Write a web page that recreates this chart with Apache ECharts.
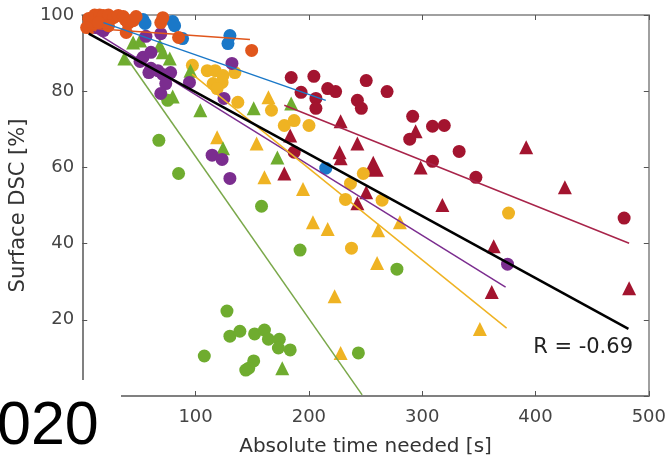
<!DOCTYPE html>
<html><head><meta charset="utf-8">
<script src="https://cdn.jsdelivr.net/npm/echarts@6/dist/echarts.min.js"></script>
<style>html,body{margin:0;padding:0;background:#fff;}#c{width:669px;height:462px;}</style>
</head><body><div id="c"></div>
<script>
// ---- data (time [s], surface DSC [%]) ----
const xTicks = [0, 100, 200, 300, 400, 500];
const yTicks = [0, 20, 40, 60, 80, 100];

const orangeCircles = [[5.7,99.1],[10.9,100],[15.3,100],[18.7,99.9],[23.1,100],[27.5,99.3],[31.8,99.9],[36.2,99.6],[37.9,98.8],[40.5,97.8],[44.9,98.5],[47.5,99.6],[69.3,98.0],[71.1,99.3],[85.0,94.1],[149.5,90.7],[7.4,96.7],[14.4,98.0],[38.8,95.4],[23.1,97.2],[3.9,96.7]];
const blueCircles = [[53.6,98.8],[55.4,97.8],[79.8,98.3],[81.5,97.2],[88.5,93.8],[130.3,94.6],[128.6,92.5],[214.9,59.8],[18.7,99.3]];
const purpleCircles = [[11.8,96.7],[18.7,95.9],[22.2,97.0],[56.2,94.4],[69.3,95.1],[53.6,88.9],[60.6,90.2],[51.0,87.8],[60.6,86.0],[58.8,84.9],[66.7,85.4],[71.1,84.4],[78.0,84.9],[73.7,82.0],[69.3,79.4],[94.6,82.3],[132.1,87.3],[125.1,78.1],[114.6,63.2],[123.4,62.1],[130.3,57.1],[375.3,34.6]];
const yellowCircles = [[97.2,86.8],[110.3,85.4],[117.3,85.4],[124.2,84.1],[134.7,84.9],[115.5,82.0],[123.4,82.3],[119.0,80.7],[137.3,77.1],[167.0,75.0],[178.3,71.0],[187.0,72.3],[200.1,71.0],[248.0,58.4],[236.7,55.8],[232.3,51.6],[264.6,51.4],[237.6,38.8],[376.2,48.0]];
const yellowTriangles = [[164.3,78.4],[119.0,67.9],[153.9,66.3],[160.8,57.4],[194.8,54.3],[203.6,45.6],[216.6,43.8],[261.1,43.5],[280.3,45.6],[260.2,34.9],[222.7,26.2],[228.0,11.3],[350.9,17.6]];
const greenCircles = [[67.6,67.1],[85.0,58.4],[158.2,49.8],[192.2,38.3],[277.7,33.3],[243.7,11.3],[127.7,22.3],[130.3,15.7],[139.1,17.0],[152.1,16.3],[160.8,17.3],[164.3,14.9],[173.9,14.9],[173.1,12.6],[183.5,12.1],[107.7,10.5],[151.3,9.2],[146.9,7.3],[144.3,6.8],[75.4,77.6]];
const greenTriangles = [[37.1,88.6],[44.9,92.8],[51.0,93.3],[68.4,92.0],[71.1,90.2],[77.2,88.6],[79.8,78.6],[95.5,85.4],[104.2,75.0],[151.3,75.5],[184.4,76.8],[172.2,62.6],[124.2,65.0],[176.5,7.3]];
const redCircles = [[184.4,83.6],[204.4,83.9],[193.1,79.7],[216.6,80.7],[223.6,79.9],[206.2,78.1],[206.2,75.5],[250.6,82.8],[269.0,79.9],[242.8,77.6],[246.3,75.5],[291.6,73.4],[309.1,70.8],[319.5,71.0],[289.0,67.4],[309.1,61.6],[332.6,64.2],[347.4,57.4],[478.2,46.7],[187.0,64.0]];
const redTriangles = [[183.5,68.4],[178.3,58.4],[228.0,72.1],[242.8,66.3],[227.1,64.0],[228.0,62.4],[298.6,60.0],[294.2,69.5],[391.8,65.3],[425.9,54.8],[250.6,53.5],[242.8,50.6],[317.8,50.1],[363.1,39.3],[361.4,27.3],[482.6,28.3]];
const redBigTriangle = [[256.8,60.3]];

// regression line end points
const orangeFit = [[4,96.6],[148,93.6]];
const blueFit = [[18.7,98.0],[214.9,77.6]];
const purpleFit = [[10,95.7],[373.6,28.6]];
const yellowFit = [[97,84.5],[374.5,17.8]];
const greenFit = [[38.8,88.9],[247,0.3]];
const redFit = [[178.3,76.3],[482.6,40.1]];
const allFit = [[5.7,95.1],[482,17.6]];
const rText = 'R = -0.69';

// ---- chart ----
const C = {
  blue:'#1a78c8', orange:'#e0561c', yellow:'#efb323', purple:'#7b2d8f', green:'#6fac2f', red:'#a3142f'
};
const chart = echarts.init(document.getElementById('c'), null, {renderer:'canvas'});
const axisCol = '#808080';
const boxCol = '#a0a0a0';
const labelStyle = {fontFamily:'DejaVu Sans', fontSize:18, color:'#444'};
function scat(data, color, symbol, size){
  return {type:'scatter', data, symbol, symbolSize:size, itemStyle:{color, opacity:1}, z:3, clip:false, animation:false};
}
function fit(data, color, width, ax){
  return {type:'line', data, symbol:'none', lineStyle:{color, width}, z:4, animation:false, silent:true,
          xAxisIndex: ax || 0, yAxisIndex: ax || 0};
}
chart.setOption({
  backgroundColor:'#fff',
  animation:false,
  grid:{left:80, right:18, top:15, bottom:66, containLabel:false},
  xAxis:[
    {type:'value', min:xTicks[0], max:xTicks[xTicks.length-1], interval:100, position:'bottom',
     axisLine:{show:true, onZero:false, lineStyle:{color:axisCol, width:2}},
     axisTick:{show:true, inside:true, length:5, lineStyle:{color:'#555', width:1}},
     axisLabel:{...labelStyle, margin:12},
     splitLine:{show:false},
     name:'Absolute time needed [s]', nameLocation:'middle', nameGap:41,
     nameTextStyle:{fontFamily:'DejaVu Sans', fontSize:20, color:'#333'}},
    {type:'value', min:xTicks[0], max:xTicks[xTicks.length-1], interval:100, position:'top',
     axisLine:{show:true, onZero:false, lineStyle:{color:boxCol, width:2}},
     axisTick:{show:true, inside:true, length:5, lineStyle:{color:'#555', width:1}},
     axisLabel:{show:false}, splitLine:{show:false}}
  ],
  yAxis:[
    {type:'value', min:yTicks[0], max:yTicks[yTicks.length-1], interval:20, position:'left',
     axisLine:{show:true, onZero:false, lineStyle:{color:axisCol, width:2}},
     axisTick:{show:true, inside:true, length:5, lineStyle:{color:'#555', width:1}},
     axisLabel:{...labelStyle, margin:8},
     splitLine:{show:false},
     name:'Surface DSC [%]', nameLocation:'middle', nameGap:46,
     nameTextStyle:{fontFamily:'DejaVu Sans', fontSize:21, color:'#333'}},
    {type:'value', min:yTicks[0], max:yTicks[yTicks.length-1], interval:20, position:'right',
     axisLine:{show:true, onZero:false, lineStyle:{color:boxCol, width:2}},
     axisTick:{show:true, inside:true, length:5, lineStyle:{color:'#555', width:1}},
     axisLabel:{show:false}, splitLine:{show:false}}
  ],
  series:[
    scat(redCircles, C.red, 'circle', 13),
    scat(redTriangles, C.red, 'triangle', 14),
    scat(redBigTriangle, C.red, 'triangle', 21),
    scat(yellowCircles, C.yellow, 'circle', 13),
    scat(yellowTriangles, C.yellow, 'triangle', 14),
    scat(greenCircles, C.green, 'circle', 13),
    scat(greenTriangles, C.green, 'triangle', 14),
    scat(purpleCircles, C.purple, 'circle', 13),
    scat(blueCircles, C.blue, 'circle', 13),
    scat(orangeCircles, C.orange, 'circle', 13),
    fit(orangeFit, C.orange, 1.5),
    fit(blueFit, C.blue, 1.5),
    fit(purpleFit, C.purple, 1.5),
    fit(yellowFit, C.yellow, 1.5),
    fit(greenFit, '#7aa84a', 1.5),
    fit(redFit, '#a8244a', 1.5),
    fit(allFit, '#000', 2.5, 1)
  ],
  graphic:[
    {type:'text', right:36, top:337, z:50, style:{text:rText, font:'21px "DejaVu Sans"', fill:'#222'}},
    {type:'rect', left:0, top:380, z:100, shape:{width:121, height:82}, style:{fill:'#fff'}},
    {type:'text', left:-3, top:397, z:101, style:{text:'020', font:'61px "Liberation Sans"', fill:'#000'}}
  ]
});
</script></body></html>
